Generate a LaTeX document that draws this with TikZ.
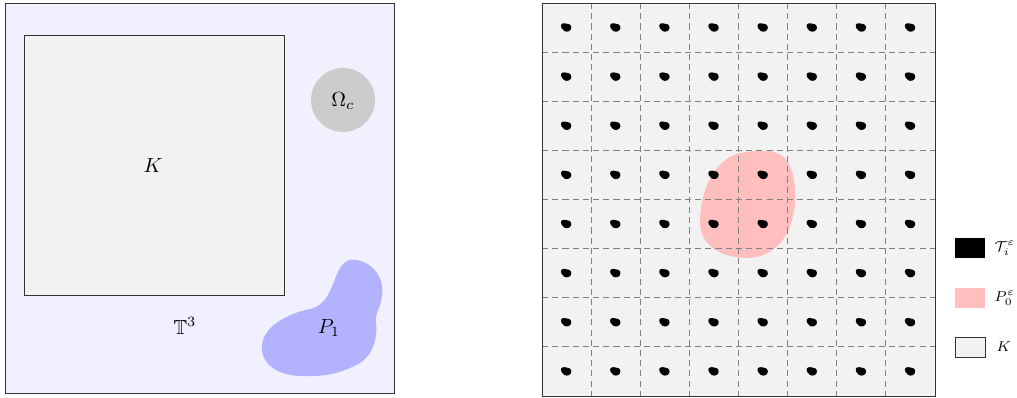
\documentclass[tikz,border=0pt]{standalone}
\usepackage{amssymb}
\begin{document}
\begin{tikzpicture}[x=0.49pt,y=-0.49pt,
  frame/.style={draw=black!80,line width=0.4pt},
  gridline/.style={draw=gray,line width=0.45pt,dash pattern=on 3pt off 2pt},
  dotblob/.style={fill=black},
  legbox/.style={minimum width=14.7pt,minimum height=9.8pt,inner sep=0pt,anchor=west},
  leglabel/.style={anchor=west,font=\scriptsize,inner sep=0pt}]
\useasboundingbox (0,0) rectangle (1017,398);
% ---------- left panel ----------
\draw[frame,fill=blue!6] (5,3) rectangle (394,393);
\draw[frame,fill=gray!10] (24,35) rectangle (284,295);
\fill[gray!40] (343,100) circle (32);
\fill[blue!30] (350,260) .. controls (368,258) and (385,275) .. (382,295)
  .. controls (381,308) and (375,312) .. (376,322)
  .. controls (378,340) and (372,360) .. (352,367)
  .. controls (338,374) and (320,377) .. (300,376)
  .. controls (275,375) and (260,362) .. (262,345)
  .. controls (264,325) and (290,313) .. (310,309)
  .. controls (325,306) and (330,292) .. (335,279)
  .. controls (339,268) and (344,261) .. cycle;
\node (K) at (153,166) {$K$};
\node (Om) at (343,101) {$\Omega_c$};
\node (T3) at (185,326) {$\mathbb{T}^3$};
\node (P1) at (329,328) {$P_1$};
% ---------- right panel ----------
\fill[gray!10] (542,3) rectangle (935,396);
\fill[red!25] (765,151) .. controls (790,150) and (796,175) .. (795,200)
  .. controls (794,235) and (775,257) .. (748,258)
  .. controls (720,258) and (700,245) .. (700,222)
  .. controls (700,195) and (710,170) .. (728,158)
  .. controls (740,151) and (752,151) .. cycle;
\foreach \i in {1,...,7} {
  \draw[gridline] ({542+49.125*\i},3) -- ({542+49.125*\i},396);
  \draw[gridline] (542,{3+49.125*\i}) -- (935,{3+49.125*\i});
}
\foreach \i in {0,...,7} {
  \foreach \j in {0,...,7} {
    \begin{scope}[shift={({566.3+49.125*\i},{27.3+49.125*\j})}]
      \fill[dotblob] plot[smooth cycle,tension=0.8] coordinates {(-5,-2.8) (-1.5,-4) (3,-3) (5,0.5) (2.5,4) (-2,3.8) (-4.6,1)};
    \end{scope}
  }
}
\draw[frame] (542,3) rectangle (935,396);
% ---------- legend ----------
\node[legbox,fill=black] (L1) at (955,248) {};
\node[legbox,fill=red!25] (L2) at (955,298) {};
\node[legbox,fill=gray!10,draw=black!80,line width=0.4pt] (L3) at (955,347) {};
\node[leglabel] (T1) at (994,248) {$\mathcal{T}_i^\varepsilon$};
\node[leglabel] (T2) at (994,298) {$P_0^\varepsilon$};
\node[leglabel] (T3l) at (996,347) {$K$};
\end{tikzpicture}
\end{document}
